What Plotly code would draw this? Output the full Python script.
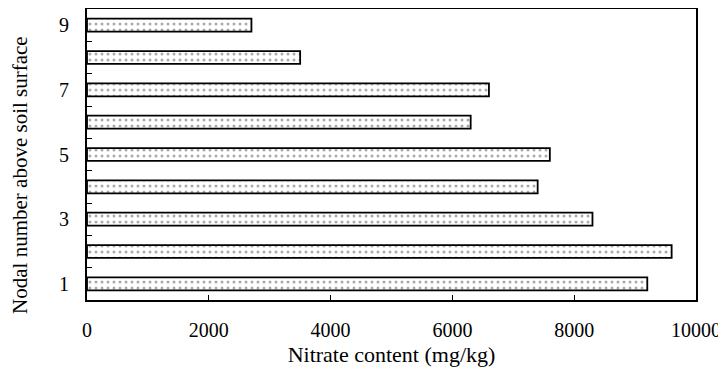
import plotly.graph_objects as go

nodes = [1, 2, 3, 4, 5, 6, 7, 8, 9]
nitrate = [9200, 9600, 8300, 7400, 7600, 6300, 6600, 3500, 2700]
x_ticks = [0, 2000, 4000, 6000, 8000, 10000]
y_labels = [1, 3, 5, 7, 9]

FONT = "Liberation Serif"

fig = go.Figure()
fig.add_trace(go.Bar(
    x=nitrate, y=nodes, orientation="h", width=0.4,
    marker=dict(color="white",
                line=dict(color="black", width=1.8),
                pattern=dict(shape=".", fgcolor="#555555", bgcolor="white",
                             size=6, solidity=0.2)),
    showlegend=False,
))

fig.update_layout(
    width=726, height=377,
    margin=dict(l=79, r=38, t=1, b=85),
    paper_bgcolor="white", plot_bgcolor="white",
    font=dict(family=FONT, size=19, color="black"),
    xaxis=dict(range=[0, 10000], tickvals=x_ticks, ticktext=[str(v) for v in x_ticks],
               ticks="inside", ticklen=5, tickwidth=1.2, tickcolor="black",
               showline=True, linecolor="black", linewidth=1.8, mirror=True,
               showgrid=False, zeroline=False, automargin=False,
               ticklabelstandoff=11,
               tickfont=dict(family=FONT, size=20),
               title=dict(text="Nitrate content (mg/kg)", font=dict(family=FONT, size=22), standoff=7)),
    yaxis=dict(range=[0.5, 9.5], tickvals=y_labels, ticktext=[str(v) for v in y_labels],
               ticks="", showline=True, linecolor="black", linewidth=1.8, mirror=True,
               showgrid=False, zeroline=False, ticklabelstandoff=12, automargin=False,
               tickfont=dict(family=FONT, size=20),
               minor=dict(tickvals=[1.5, 2.5, 3.5, 4.5, 5.5, 6.5, 7.5, 8.5], ticks="inside",
                          ticklen=5, tickwidth=1.2, tickcolor="black", showgrid=False)),
)

fig.add_annotation(text="Nodal number above soil surface", xref="paper", yref="paper",
                   x=-0.11, y=0.43, xanchor="center", yanchor="middle", textangle=-90,
                   showarrow=False, font=dict(family=FONT, size=21, color="black"))

fig.write_html("out.html")
